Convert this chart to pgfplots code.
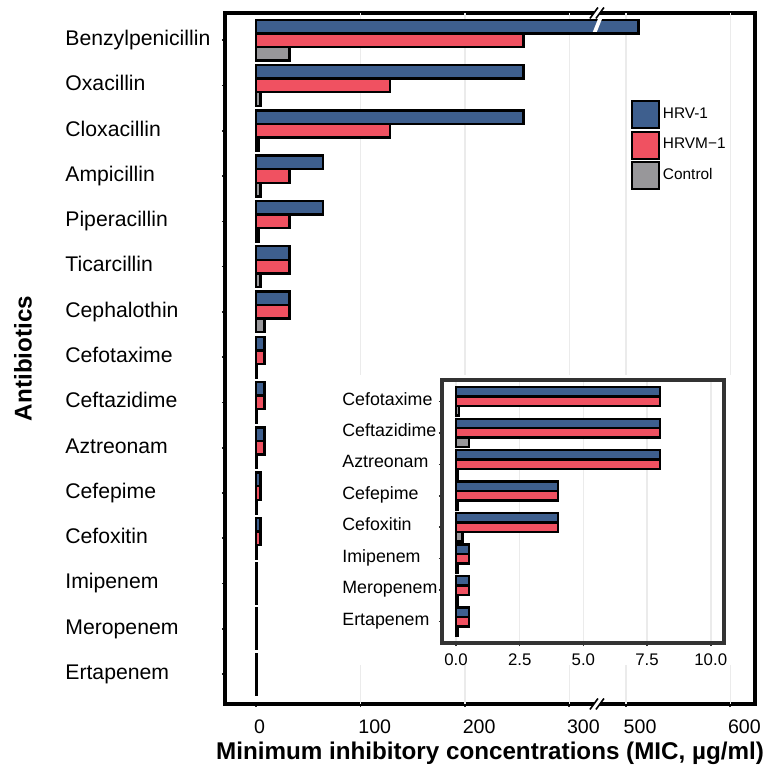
\documentclass[border=0pt]{standalone}
\usepackage{pgfplots}
\pgfplotsset{compat=1.18}
\usepackage{pgfplotstable}
\usepackage{fontspec}
\setmainfont{Liberation Sans}

\definecolor{hrvblue}{HTML}{3E5F8E}
\definecolor{hrvmred}{HTML}{F05161}
\definecolor{ctrlgray}{HTML}{98979A}
\definecolor{gridgray}{HTML}{EBEBEB}

% MIC values (ug/ml) for each antibiotic and strain
\pgfplotstableread{
name              hrv    hrvm   ctrl
Benzylpenicillin  512    256    32
Oxacillin         256    128    4
Cloxacillin       256    128    2
Ampicillin        64     32     4
Piperacillin      64     32     2
Ticarcillin       32     32     4
Cephalothin       32     32     8
Cefotaxime        8      8      0.125
Ceftazidime       8      8      0.5
Aztreonam         8      8      0.0625
Cefepime          4      4      0.0625
Cefoxitin         4      4      0.25
Imipenem          0.5    0.5    0.0625
Meropenem         0.5    0.5    0.0625
Ertapenem         0.5    0.5    0.0625
}\mic

\pgfplotsset{
  micbar/.style={draw=black, line width=1.2pt},
}

\begin{document}
\begin{tikzpicture}
\path[use as bounding box] (0,0) rectangle (385.5pt,386.5pt);

% main panel: broken x axis, values above 400 are shifted left by 145.7
\begin{axis}[
  at={(112.5pt,34.5pt)}, anchor=south west,
  scale only axis, width=265pt, height=345.5pt,
  xbar, bar width=0.3,
  y dir=reverse,
  xmin=-30, xmax=478, ymin=-0.6, ymax=14.66,
  x filter/.expression={x>400 ? x-145.7 : x},
  xtick={0,100,200,300,354.3,454.3},
  xticklabels={0,100,200,300,500,600},
  extra x ticks={100,200,300,354.3,454.3},
  extra x tick labels={},
  extra x tick style={grid=major, major tick length=0pt},
  major grid style={gridgray, line width=0.75pt},
  ytick={0,...,14},
  yticklabels from table={\mic}{name},
  tick align=outside, xtick pos=left, ytick pos=left,
  major tick length=1.5pt,
  tick style={line width=0.8pt, black!85},
  axis line style={line width=1.6pt, black},
  /pgf/number format/assume math mode=true,
  xticklabel style={font=\fontsize{9.8}{11}\selectfont, anchor=north west,
    inner xsep=0pt, xshift=-1.3pt, yshift=-3pt},
  yticklabel style={anchor=base west, xshift=-78.5pt, yshift=-2.65pt,
    inner sep=0pt, font=\fontsize{10.6}{12}\selectfont},
  xlabel={Minimum inhibitory concentrations (MIC, µg/ml)},
  xlabel style={at={(axis description cs:0.5,-0.0796)}, anchor=base,
    font=\bfseries\fontsize{12.1}{14}\selectfont},
  ylabel={Antibiotics},
  ylabel style={at={(axis description cs:-0.381,0.5)}, anchor=center,
    font=\bfseries\fontsize{12.1}{14}\selectfont},
  legend style={at={(0.766,0.874)}, anchor=north west, draw=none, fill=none,
    inner sep=0pt, row sep=0.6pt, font=\fontsize{7.7}{9}\selectfont,
    nodes={inner sep=1.3pt}},
  legend cell align=left,
  legend image code/.code={\draw[#1, line width=1pt] (0pt,-6.75pt) rectangle (13.5pt,6.75pt);},
]
\addplot[micbar, fill=hrvblue, bar shift=-0.3] table[x=hrv, y expr=\coordindex] {\mic};
\addplot[micbar, fill=hrvmred, bar shift=0] table[x=hrvm, y expr=\coordindex] {\mic};
\addplot[micbar, fill=ctrlgray, bar shift=0.3] table[x=ctrl, y expr=\coordindex] {\mic};
\legend{HRV-1, HRVM\textminus1, Control}
\coordinate (brkTop) at (axis cs:326.5,-0.6);
\coordinate (brkBot) at (axis cs:326.5,14.66);
\coordinate (brkBar) at (axis cs:326.5,-0.3);
\end{axis}

% axis break marks
\foreach \p in {brkTop,brkBot}{
  \begin{scope}[shift={(\p)}]
    \fill[white] (-3.5pt,-2.75pt) -- (0.5pt,2.75pt) -- (3.5pt,2.75pt) -- (-0.5pt,-2.75pt) -- cycle;
    \draw[black, line width=0.8pt] (-3.5pt,-2.75pt) -- (0.5pt,2.75pt);
    \draw[black, line width=0.8pt] (-0.5pt,-2.75pt) -- (3.5pt,2.75pt);
  \end{scope}
}
\begin{scope}[shift={(brkBar)}]
  \fill[white] (-2.04pt,-2.6pt) -- (-0.04pt,-2.6pt) -- (2.8pt,4.5pt) -- (0.8pt,4.5pt) -- cycle;
\end{scope}

% backdrop of the inset panel
\fill[white] (168pt,54pt) rectangle (372.5pt,199pt);

% inset: low-MIC antibiotics on a 0-10 scale
\begin{axis}[
  at={(221pt,65pt)}, anchor=south west,
  scale only axis, width=141pt, height=131.5pt,
  xbar, bar width=0.3,
  y dir=reverse,
  xmin=-0.55, xmax=10.52, ymin=-0.68, ymax=7.68,
  restrict y to domain=-0.5:7.5,
  xtick={0,2.5,5,7.5,10},
  xticklabels={0.0,2.5,5.0,7.5,10.0},
  ytick={0,...,7},
  yticklabels={Cefotaxime,Ceftazidime,Aztreonam,Cefepime,Cefoxitin,Imipenem,Meropenem,Ertapenem},
  xmajorgrids, major grid style={gridgray, line width=0.75pt},
  axis background/.style={fill=white},
  tick align=outside, xtick pos=left, ytick pos=left,
  major tick length=1.5pt,
  tick style={line width=0.8pt, black!80},
  axis line style={line width=1.6pt, black!80},
  /pgf/number format/assume math mode=true,
  xticklabel style={font=\fontsize{8.4}{10}\selectfont, yshift=-0.5pt},
  yticklabel style={anchor=base west, xshift=-48.5pt, yshift=-1.8pt,
    inner sep=0pt, font=\fontsize{8.9}{10}\selectfont},
]
\addplot[micbar, fill=hrvblue, bar shift=-0.3] table[x=hrv, y expr=\coordindex-7] {\mic};
\addplot[micbar, fill=hrvmred, bar shift=0] table[x=hrvm, y expr=\coordindex-7] {\mic};
\addplot[micbar, fill=ctrlgray, bar shift=0.3] table[x=ctrl, y expr=\coordindex-7] {\mic};
\end{axis}
\end{tikzpicture}
\end{document}
